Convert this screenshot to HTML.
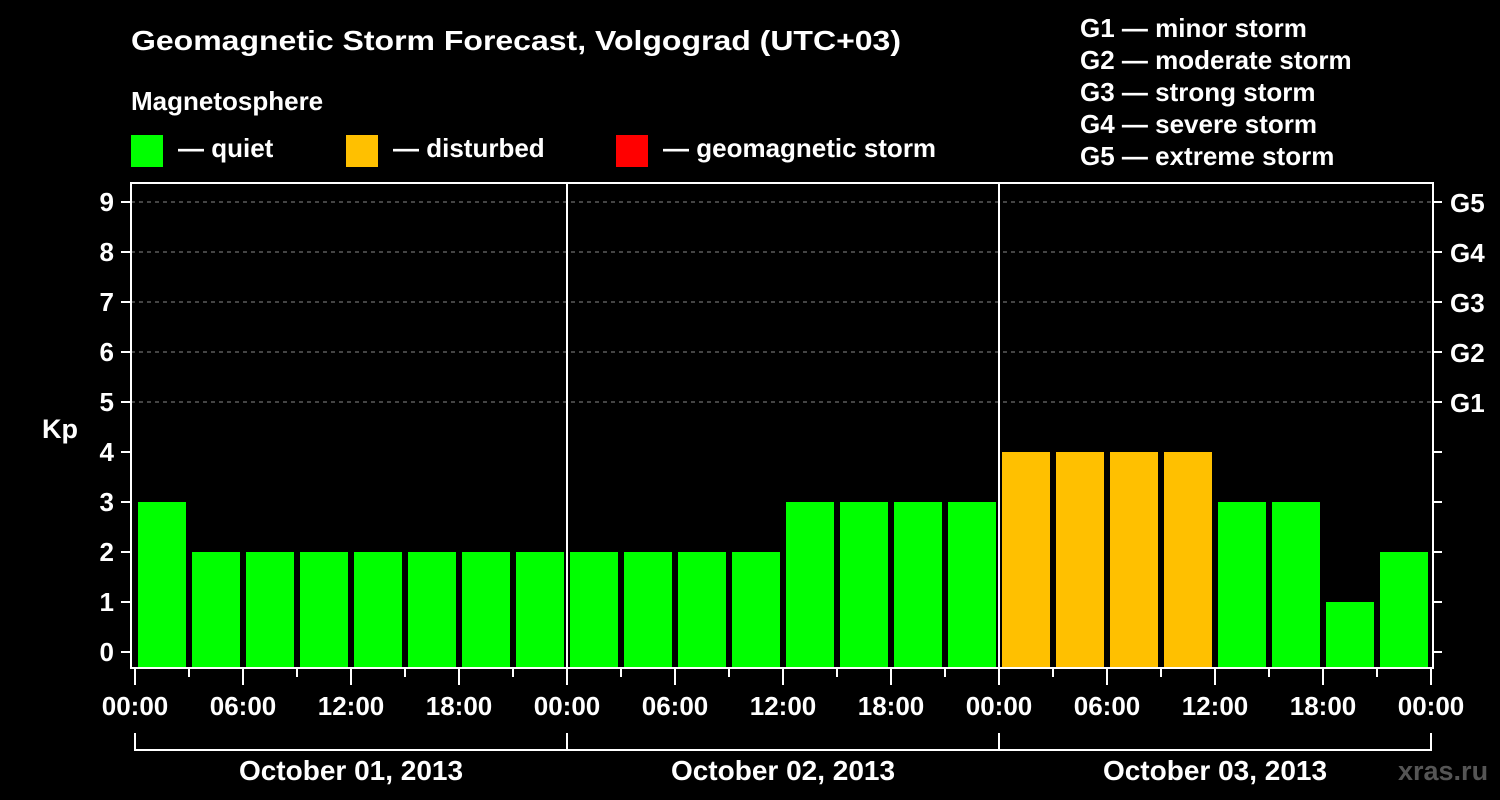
<!DOCTYPE html>
<html><head><meta charset="utf-8"><style>
body{margin:0;background:#000;}
svg{display:block;font-family:"Liberation Sans",Arial,sans-serif;font-weight:bold;}
</style></head><body>
<svg id="chart" width="1500" height="800" viewBox="0 0 1500 800">
<rect width="1500" height="800" fill="#000"/>
<text x="131" y="50" fill="#fff" font-size="28" textLength="770" lengthAdjust="spacingAndGlyphs">Geomagnetic Storm Forecast, Volgograd (UTC+03)</text>
<text x="131" y="110" fill="#fff" font-size="26">Magnetosphere</text>
<g><rect x="131" y="135" width="32" height="32" fill="#00ff00"/><text x="178" y="157" fill="#fff" font-size="26">— quiet</text></g>
<g><rect x="346" y="135" width="32" height="32" fill="#ffc000"/><text x="393" y="157" fill="#fff" font-size="26">— disturbed</text></g>
<g><rect x="616" y="135" width="32" height="32" fill="#ff0000"/><text x="663" y="157" fill="#fff" font-size="26">— geomagnetic storm</text></g>
<g fill="#fff" font-size="26">
<text x="1080" y="37">G1 — minor storm</text>
<text x="1080" y="69">G2 — moderate storm</text>
<text x="1080" y="101">G3 — strong storm</text>
<text x="1080" y="133">G4 — severe storm</text>
<text x="1080" y="165">G5 — extreme storm</text>
</g>
<text x="42" y="438" fill="#fff" font-size="27">Kp</text>
<text x="1398" y="780" fill="#555" font-size="27">xras.ru</text>
<g id="plot"></g>
</svg>
<script>
const kpValues = [3,2,2,2,2,2,2,2, 2,2,2,2,3,3,3,3, 4,4,4,4,3,3,1,2];
const dayLabels = ["October 01, 2013","October 02, 2013","October 03, 2013"];
const hourLabels = ["00:00","06:00","12:00","18:00"];
const gLabels = ["G1","G2","G3","G4","G5"];
const kpTicks = [0,1,2,3,4,5,6,7,8,9];

const NS="http://www.w3.org/2000/svg";
const plotG=document.getElementById('plot');
const x0=135, slot=54, plotLeft=131, plotRight=1433, plotTop=183, plotBottom=668;
const xOf=i=>x0+i*slot;
const yOf=v=>652-v*50;
function mk(tag,attrs){const e=document.createElementNS(NS,tag);for(const k in attrs)e.setAttribute(k,attrs[k]);plotG.appendChild(e);return e;}
kpTicks.forEach(v=>{
  if(v>=5){const l=mk('line',{x1:plotLeft,x2:plotRight,y1:yOf(v),y2:yOf(v),stroke:'#888','stroke-width':1,'stroke-dasharray':'4,4'});
  
  }
  const t=mk('line',{x1:121,x2:plotLeft,y1:yOf(v),y2:yOf(v),stroke:'#fff','stroke-width':2});
  
  
  const tx=mk('text',{x:114,y:yOf(v)+9,fill:'#fff','font-size':26,'text-anchor':'end'});tx.textContent=v;
  
  
  const rt=mk('line',{x1:plotRight,x2:plotRight+9,y1:yOf(v),y2:yOf(v),stroke:'#fff','stroke-width':2});
  
  
});
gLabels.forEach((s,i)=>{const t=mk('text',{x:1450,y:yOf(5+i)+10,fill:'#fff','font-size':26});t.textContent=s;
  
  });
kpValues.forEach((v,i)=>{
  const c=v>=5?'#ff0000':(v>=4?'#ffc000':'#00ff00');
  const r=mk('rect',{x:xOf(i)+3,y:yOf(v),width:48,height:plotBottom-yOf(v),fill:c});
  
  
});
for(let d=1;d<dayLabels.length;d++){const l=mk('line',{x1:xOf(d*8),x2:xOf(d*8),y1:plotTop,y2:plotBottom,stroke:'#fff','stroke-width':2});
  
  }
const f=mk('rect',{x:plotLeft,y:plotTop,width:plotRight-plotLeft,height:plotBottom-plotTop,fill:'none',stroke:'#fff','stroke-width':2});


for(let i=0;i<=kpValues.length;i++){
  const major=i%2===0;
  const t=mk('line',{x1:xOf(i),x2:xOf(i),y1:plotBottom,y2:plotBottom+(major?17:9),stroke:'#fff','stroke-width':2});
  
  
  if(major){const tx=mk('text',{x:xOf(i),y:715,fill:'#fff','font-size':26,'text-anchor':'middle'});
    tx.textContent=hourLabels[(i/2)%4];
    
    }
}
dayLabels.forEach((s,d)=>{
  const a=xOf(d*8), b=xOf(d*8+8);
  const p=mk('path',{d:`M${a} 733V750H${b}`+(d===dayLabels.length-1?`V733`:''),stroke:'#fff','stroke-width':2,fill:'none'});
  
  
  const t=mk('text',{x:(a+b)/2,y:780,fill:'#fff','font-size':28,'text-anchor':'middle'});t.textContent=s;
  
  
});
</script>
</body></html>
